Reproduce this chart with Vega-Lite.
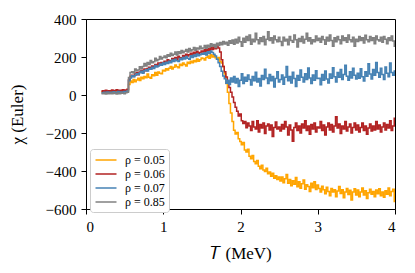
{
  "$schema": "https://vega.github.io/schema/vega-lite/v6.json",
  "width": 309,
  "height": 190,
  "autosize": {"type": "none"},
  "padding": {"left": 86, "top": 19, "right": 20, "bottom": 64},
  "background": "white",
  "config": {
    "font": "Liberation Serif",
    "view": {"stroke": "#000", "strokeWidth": 1},
    "axis": {"grid": false, "domainColor": "#000", "tickColor": "#000", "labelColor": "#000", "titleColor": "#000", "labelFont": "Liberation Serif", "titleFont": "Liberation Serif", "labelFontSize": 15, "titleFontSize": 17, "titleFontWeight": "normal", "tickSize": 5, "labelPadding": 5}
  },
  "data": {"values": [
    {"T":0.20,"a":14,"b":20,"c":12,"d":8},
    {"T":0.22,"a":17,"b":23,"c":10,"d":6},
    {"T":0.24,"a":12,"b":18,"c":15,"d":10},
    {"T":0.26,"a":16,"b":25,"c":11,"d":5},
    {"T":0.28,"a":19,"b":19,"c":16,"d":11},
    {"T":0.30,"a":13,"b":22,"c":13,"d":7},
    {"T":0.32,"a":18,"b":21,"c":14,"d":9},
    {"T":0.34,"a":15,"b":26,"c":12,"d":6},
    {"T":0.36,"a":20,"b":20,"c":17,"d":12},
    {"T":0.38,"a":14,"b":24,"c":11,"d":8},
    {"T":0.40,"a":17,"b":27,"c":15,"d":5},
    {"T":0.42,"a":21,"b":22,"c":18,"d":10},
    {"T":0.44,"a":16,"b":25,"c":13,"d":7},
    {"T":0.46,"a":13,"b":21,"c":16,"d":11},
    {"T":0.48,"a":19,"b":28,"c":14,"d":9},
    {"T":0.50,"a":22,"b":24,"c":19,"d":6},
    {"T":0.52,"a":18,"b":26,"c":17,"d":12},
    {"T":0.54,"a":24,"b":30,"c":21,"d":14},
    {"T":0.56,"a":55,"b":80,"c":75,"d":92},
    {"T":0.58,"a":74,"b":99,"c":90,"d":118},
    {"T":0.60,"a":66,"b":104,"c":101,"d":122},
    {"T":0.62,"a":81,"b":97,"c":96,"d":116},
    {"T":0.64,"a":70,"b":113,"c":104,"d":137},
    {"T":0.66,"a":79,"b":118,"c":112,"d":128},
    {"T":0.68,"a":88,"b":106,"c":108,"d":131},
    {"T":0.70,"a":76,"b":121,"c":117,"d":149},
    {"T":0.72,"a":93,"b":130,"c":125,"d":140},
    {"T":0.74,"a":85,"b":119,"c":115,"d":150},
    {"T":0.76,"a":97,"b":137,"c":128,"d":166},
    {"T":0.78,"a":91,"b":128,"c":133,"d":153},
    {"T":0.80,"a":110,"b":140,"c":126,"d":171},
    {"T":0.82,"a":94,"b":146,"c":140,"d":160},
    {"T":0.84,"a":88,"b":135,"c":135,"d":182},
    {"T":0.86,"a":106,"b":152,"c":146,"d":170},
    {"T":0.88,"a":101,"b":147,"c":139,"d":175},
    {"T":0.90,"a":118,"b":160,"c":155,"d":193},
    {"T":0.92,"a":104,"b":151,"c":148,"d":180},
    {"T":0.94,"a":121,"b":168,"c":152,"d":187},
    {"T":0.96,"a":114,"b":158,"c":163,"d":202},
    {"T":0.98,"a":112,"b":171,"c":156,"d":189},
    {"T":1.00,"a":130,"b":165,"c":168,"d":197},
    {"T":1.02,"a":126,"b":178,"c":160,"d":205},
    {"T":1.04,"a":138,"b":170,"c":172,"d":196},
    {"T":1.06,"a":132,"b":185,"c":166,"d":212},
    {"T":1.08,"a":141,"b":182,"c":178,"d":204},
    {"T":1.10,"a":150,"b":176,"c":170,"d":220},
    {"T":1.12,"a":137,"b":192,"c":184,"d":208},
    {"T":1.14,"a":146,"b":188,"c":176,"d":215},
    {"T":1.16,"a":158,"b":198,"c":188,"d":226},
    {"T":1.18,"a":149,"b":185,"c":180,"d":210},
    {"T":1.20,"a":144,"b":204,"c":176,"d":228},
    {"T":1.22,"a":162,"b":196,"c":192,"d":218},
    {"T":1.24,"a":155,"b":190,"c":186,"d":234},
    {"T":1.26,"a":168,"b":208,"c":198,"d":222},
    {"T":1.28,"a":160,"b":202,"c":190,"d":230},
    {"T":1.30,"a":152,"b":214,"c":202,"d":240},
    {"T":1.32,"a":172,"b":205,"c":194,"d":226},
    {"T":1.34,"a":166,"b":212,"c":188,"d":245},
    {"T":1.36,"a":178,"b":220,"c":206,"d":232},
    {"T":1.38,"a":170,"b":208,"c":198,"d":238},
    {"T":1.40,"a":182,"b":225,"c":210,"d":250},
    {"T":1.42,"a":175,"b":216,"c":202,"d":236},
    {"T":1.44,"a":190,"b":230,"c":216,"d":248},
    {"T":1.46,"a":178,"b":218,"c":206,"d":242},
    {"T":1.48,"a":186,"b":224,"c":212,"d":256},
    {"T":1.50,"a":195,"b":232,"c":218,"d":244},
    {"T":1.52,"a":192,"b":226,"c":214,"d":248},
    {"T":1.54,"a":184,"b":238,"c":222,"d":260},
    {"T":1.56,"a":198,"b":230,"c":210,"d":246},
    {"T":1.58,"a":205,"b":245,"c":228,"d":262},
    {"T":1.60,"a":194,"b":236,"c":218,"d":252},
    {"T":1.62,"a":212,"b":250,"c":232,"d":270},
    {"T":1.64,"a":200,"b":240,"c":224,"d":256},
    {"T":1.66,"a":208,"b":256,"c":215,"d":266},
    {"T":1.68,"a":196,"b":244,"c":205,"d":250},
    {"T":1.70,"a":188,"b":262,"c":188,"d":272},
    {"T":1.72,"a":198,"b":248,"c":170,"d":260},
    {"T":1.74,"a":176,"b":226,"c":150,"d":276},
    {"T":1.76,"a":168,"b":185,"c":125,"d":264},
    {"T":1.78,"a":150,"b":150,"c":100,"d":282},
    {"T":1.80,"a":110,"b":122,"c":85,"d":268},
    {"T":1.82,"a":60,"b":95,"c":62,"d":278},
    {"T":1.84,"a":15,"b":70,"c":78,"d":262},
    {"T":1.86,"a":-45,"b":40,"c":55,"d":286},
    {"T":1.88,"a":-95,"b":15,"c":90,"d":272},
    {"T":1.90,"a":-140,"b":-10,"c":68,"d":290},
    {"T":1.92,"a":-185,"b":-40,"c":98,"d":267},
    {"T":1.94,"a":-205,"b":-65,"c":63,"d":294},
    {"T":1.96,"a":-198,"b":-85,"c":87,"d":274},
    {"T":1.98,"a":-230,"b":-110,"c":45,"d":304},
    {"T":2.00,"a":-245,"b":-100,"c":78,"d":280},
    {"T":2.02,"a":-262,"b":-135,"c":112,"d":257},
    {"T":2.04,"a":-250,"b":-150,"c":60,"d":299},
    {"T":2.06,"a":-290,"b":-140,"c":93,"d":277},
    {"T":2.08,"a":-300,"b":-172,"c":72,"d":308},
    {"T":2.10,"a":-285,"b":-147,"c":105,"d":287},
    {"T":2.12,"a":-322,"b":-163,"c":82,"d":316},
    {"T":2.14,"a":-335,"b":-187,"c":52,"d":267},
    {"T":2.16,"a":-318,"b":-139,"c":98,"d":294},
    {"T":2.18,"a":-350,"b":-168,"c":75,"d":280},
    {"T":2.20,"a":-362,"b":-179,"c":120,"d":325},
    {"T":2.22,"a":-345,"b":-136,"c":68,"d":291},
    {"T":2.24,"a":-375,"b":-195,"c":87,"d":270},
    {"T":2.26,"a":-388,"b":-155,"c":48,"d":301},
    {"T":2.28,"a":-370,"b":-174,"c":102,"d":282},
    {"T":2.30,"a":-395,"b":-147,"c":81,"d":308},
    {"T":2.32,"a":-402,"b":-203,"c":135,"d":265},
    {"T":2.34,"a":-385,"b":-163,"c":90,"d":294},
    {"T":2.36,"a":-415,"b":-152,"c":60,"d":333},
    {"T":2.38,"a":-405,"b":-184,"c":108,"d":287},
    {"T":2.40,"a":-428,"b":-158,"c":75,"d":301},
    {"T":2.42,"a":-412,"b":-219,"c":98,"d":274},
    {"T":2.44,"a":-438,"b":-171,"c":42,"d":311},
    {"T":2.46,"a":-425,"b":-142,"c":87,"d":291},
    {"T":2.48,"a":-445,"b":-179,"c":123,"d":280},
    {"T":2.50,"a":-432,"b":-168,"c":69,"d":304},
    {"T":2.52,"a":-452,"b":-190,"c":82,"d":282},
    {"T":2.54,"a":-432,"b":-155,"c":105,"d":260},
    {"T":2.56,"a":-462,"b":-179,"c":57,"d":304},
    {"T":2.58,"a":-441,"b":-139,"c":93,"d":284},
    {"T":2.60,"a":-418,"b":-168,"c":150,"d":294},
    {"T":2.62,"a":-465,"b":-211,"c":75,"d":265},
    {"T":2.64,"a":-445,"b":-158,"c":98,"d":308},
    {"T":2.66,"a":-478,"b":-184,"c":63,"d":287},
    {"T":2.68,"a":-451,"b":-243,"c":120,"d":277},
    {"T":2.70,"a":-470,"b":-171,"c":87,"d":316},
    {"T":2.72,"a":-434,"b":-147,"c":45,"d":291},
    {"T":2.74,"a":-483,"b":-187,"c":102,"d":253},
    {"T":2.76,"a":-457,"b":-163,"c":78,"d":298},
    {"T":2.78,"a":-491,"b":-200,"c":132,"d":282},
    {"T":2.80,"a":-467,"b":-152,"c":93,"d":308},
    {"T":2.82,"a":-448,"b":-174,"c":68,"d":274},
    {"T":2.84,"a":-496,"b":-136,"c":112,"d":294},
    {"T":2.86,"a":-472,"b":-187,"c":82,"d":325},
    {"T":2.88,"a":-482,"b":-163,"c":142,"d":284},
    {"T":2.90,"a":-508,"b":-206,"c":90,"d":301},
    {"T":2.92,"a":-464,"b":-155,"c":60,"d":270},
    {"T":2.94,"a":-488,"b":-179,"c":105,"d":291},
    {"T":2.96,"a":-457,"b":-147,"c":78,"d":280},
    {"T":2.98,"a":-497,"b":-195,"c":128,"d":311},
    {"T":3.00,"a":-474,"b":-168,"c":87,"d":287},
    {"T":3.02,"a":-492,"b":-174,"c":88,"d":299},
    {"T":3.04,"a":-511,"b":-139,"c":54,"d":277},
    {"T":3.06,"a":-480,"b":-187,"c":108,"d":308},
    {"T":3.08,"a":-499,"b":-158,"c":78,"d":291},
    {"T":3.10,"a":-520,"b":-211,"c":126,"d":267},
    {"T":3.12,"a":-486,"b":-168,"c":84,"d":304},
    {"T":3.14,"a":-508,"b":-147,"c":63,"d":284},
    {"T":3.16,"a":-530,"b":-184,"c":111,"d":316},
    {"T":3.18,"a":-492,"b":-155,"c":88,"d":287},
    {"T":3.20,"a":-511,"b":-195,"c":144,"d":257},
    {"T":3.22,"a":-499,"b":-163,"c":96,"d":301},
    {"T":3.24,"a":-536,"b":-115,"c":69,"d":280},
    {"T":3.26,"a":-505,"b":-174,"c":118,"d":308},
    {"T":3.28,"a":-482,"b":-152,"c":93,"d":291},
    {"T":3.30,"a":-519,"b":-203,"c":134,"d":270},
    {"T":3.32,"a":-499,"b":-163,"c":81,"d":311},
    {"T":3.34,"a":-541,"b":-179,"c":108,"d":287},
    {"T":3.36,"a":-510,"b":-139,"c":156,"d":301},
    {"T":3.38,"a":-492,"b":-190,"c":99,"d":277},
    {"T":3.40,"a":-524,"b":-168,"c":78,"d":316},
    {"T":3.42,"a":-501,"b":-152,"c":123,"d":291},
    {"T":3.44,"a":-553,"b":-200,"c":90,"d":280},
    {"T":3.46,"a":-511,"b":-171,"c":141,"d":304},
    {"T":3.48,"a":-493,"b":-147,"c":104,"d":257},
    {"T":3.50,"a":-526,"b":-184,"c":84,"d":294},
    {"T":3.52,"a":-500,"b":-158,"c":114,"d":282},
    {"T":3.54,"a":-535,"b":-195,"c":88,"d":308},
    {"T":3.56,"a":-511,"b":-171,"c":138,"d":287},
    {"T":3.58,"a":-490,"b":-147,"c":96,"d":301},
    {"T":3.60,"a":-526,"b":-187,"c":74,"d":274},
    {"T":3.62,"a":-504,"b":-163,"c":123,"d":314},
    {"T":3.64,"a":-545,"b":-206,"c":99,"d":291},
    {"T":3.66,"a":-515,"b":-174,"c":164,"d":280},
    {"T":3.68,"a":-496,"b":-152,"c":111,"d":308},
    {"T":3.70,"a":-523,"b":-190,"c":84,"d":287},
    {"T":3.72,"a":-508,"b":-163,"c":134,"d":301},
    {"T":3.74,"a":-535,"b":-184,"c":104,"d":270},
    {"T":3.76,"a":-500,"b":-139,"c":171,"d":311},
    {"T":3.78,"a":-520,"b":-179,"c":118,"d":291},
    {"T":3.80,"a":-493,"b":-158,"c":93,"d":284},
    {"T":3.82,"a":-530,"b":-195,"c":141,"d":304},
    {"T":3.84,"a":-511,"b":-168,"c":108,"d":277},
    {"T":3.86,"a":-538,"b":-147,"c":81,"d":308},
    {"T":3.88,"a":-504,"b":-184,"c":148,"d":294},
    {"T":3.90,"a":-523,"b":-155,"c":114,"d":270},
    {"T":3.92,"a":-490,"b":-174,"c":96,"d":301},
    {"T":3.94,"a":-530,"b":-136,"c":168,"d":287},
    {"T":3.96,"a":-508,"b":-187,"c":118,"d":311},
    {"T":3.98,"a":-496,"b":-163,"c":104,"d":284},
    {"T":4.00,"a":-560,"b":-123,"c":126,"d":257}
  ]},
  "transform": [{"fold": ["a", "b", "c", "d"], "as": ["series", "chi"]}],
  "mark": {"type": "line", "interpolate": "step", "strokeWidth": 1.5, "clip": true},
  "encoding": {
    "x": {"field": "T", "type": "quantitative", "scale": {"domain": [0, 4], "nice": false, "zero": false},
      "axis": {"values": [0, 1, 2, 3, 4], "title": "𝑇 (MeV)", "titlePadding": 11}},
    "y": {"field": "chi", "type": "quantitative", "scale": {"domain": [-600, 400], "nice": false},
      "axis": {"values": [-600, -400, -200, 0, 200, 400], "title": "χ (Euler)", "titlePadding": 19,
        "labelExpr": "replace(datum.label, '-', '−')", "format": "d"}},
    "color": {"field": "series", "type": "nominal",
      "scale": {"domain": ["a", "b", "c", "d"], "range": ["#FFA500", "#B22222", "#4682B4", "#808080"]},
      "legend": {"orient": "none", "legendX": 4, "legendY": 130, "title": null,
        "labelExpr": "{'a': 'ρ = 0.05', 'b': 'ρ = 0.06', 'c': 'ρ = 0.07', 'd': 'ρ = 0.85'}[datum.label]",
        "symbolType": "M-1.75,0H1.75", "symbolSize": 144, "symbolStrokeWidth": 1.5, "labelOffset": 12,
        "labelFontSize": 12, "labelFont": "Liberation Serif", "labelColor": "#000",
        "fillColor": "white", "strokeColor": "#ccc", "padding": 4, "cornerRadius": 3,
        "rowPadding": 1, "symbolOffset": 5}}
  }
}
